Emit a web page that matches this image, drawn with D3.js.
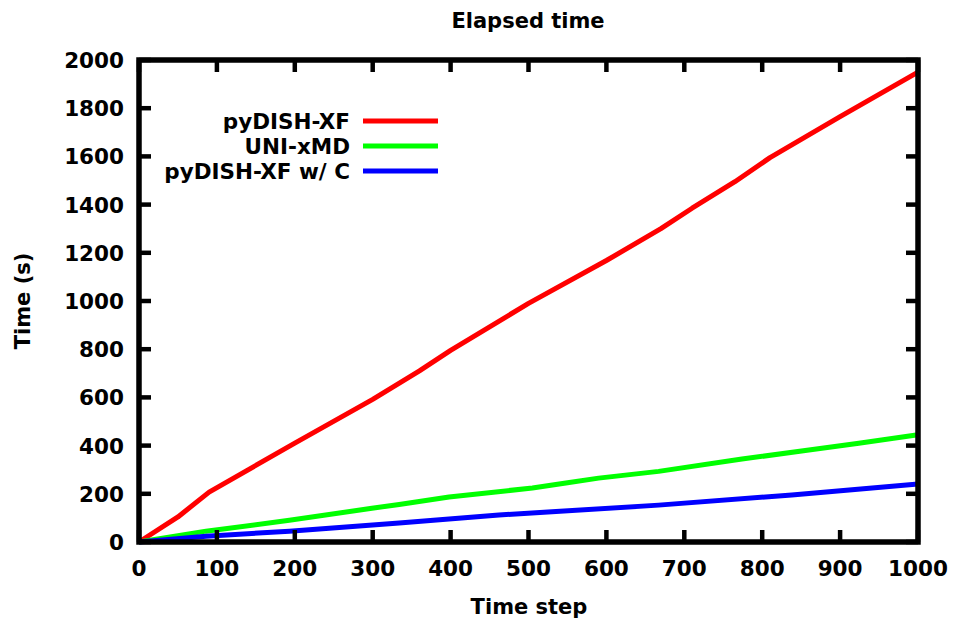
<!DOCTYPE html>
<html>
<head>
<meta charset="utf-8">
<script src="https://cdn.jsdelivr.net/npm/d3@7"></script>
<style>
  body { margin: 0; background: #fff; }
  text { font-family: "DejaVu Sans", sans-serif; font-weight: bold; }
</style>
</head>
<body>
<div class="canva"></div>
<script>
// values
const seriesNames = ['pyDISH-XF', 'UNI-xMD', 'pyDISH-XF w/ C'];
const seriesColors = ['#ff0000', '#00ff00', '#0000ff'];

const redSteps = [0, 50, 90, 200, 300, 360, 400, 500, 600, 670, 710, 765, 810, 900, 1000];
const redTimes = [0, 104, 207, 410, 592, 710, 795, 990, 1168, 1300, 1385, 1495, 1595, 1765, 1950];

const greenSteps = [0, 86, 193, 299, 334, 398, 505, 548, 590, 667, 774, 860, 924, 1000];
const greenTimes = [0, 45, 90, 140, 156, 187, 224, 245, 265, 293, 344, 382, 410, 445];

const blueSteps = [0, 86, 193, 334, 462, 667, 838, 1000];
const blueTimes = [0, 24, 45, 79, 112, 153, 195, 241];

const xTicks = [0, 100, 200, 300, 400, 500, 600, 700, 800, 900, 1000];
const yTicks = [0, 200, 400, 600, 800, 1000, 1200, 1400, 1600, 1800, 2000];

const W = 954, H = 619;
const plotL = 139, plotR = 918, plotT = 60, plotB = 542;

const svg = d3.select('.canva').append('svg')
    .attr('width', W)
    .attr('height', H);

const x = d3.scaleLinear().domain([0, 1000]).range([plotL, plotR]);
const y = d3.scaleLinear().domain([0, 2000]).range([plotB, plotT]);

const series = [
    redSteps.map((s, i) => [s, redTimes[i]]),
    greenSteps.map((s, i) => [s, greenTimes[i]]),
    blueSteps.map((s, i) => [s, blueTimes[i]])
];

const line = d3.line().x(d => x(d[0])).y(d => y(d[1]));

// data lines
svg.selectAll('path.series')
    .data(series)
    .enter()
    .append('path')
    .attr('class', 'series')
    .attr('d', line)
    .attr('fill', 'none')
    .attr('stroke', (d, i) => seriesColors[i])
    .attr('stroke-width', 5)
    .attr('stroke-linejoin', 'round');

// ticks on all four sides, pointing in
const tickLen = 12;
const tickStyle = sel => sel.attr('stroke', '#000').attr('stroke-width', 4.5);

xTicks.forEach(t => {
    svg.append('line').attr('x1', x(t)).attr('x2', x(t))
        .attr('y1', plotB).attr('y2', plotB - tickLen).call(tickStyle);
    svg.append('line').attr('x1', x(t)).attr('x2', x(t))
        .attr('y1', plotT).attr('y2', plotT + tickLen).call(tickStyle);
});
yTicks.forEach(t => {
    svg.append('line').attr('x1', plotL).attr('x2', plotL + tickLen)
        .attr('y1', y(t)).attr('y2', y(t)).call(tickStyle);
    svg.append('line').attr('x1', plotR).attr('x2', plotR - tickLen)
        .attr('y1', y(t)).attr('y2', y(t)).call(tickStyle);
});

// border
svg.append('rect')
    .attr('x', plotL).attr('y', plotT)
    .attr('width', plotR - plotL).attr('height', plotB - plotT)
    .attr('fill', 'none')
    .attr('stroke', '#000')
    .attr('stroke-width', 5.5);

// tick labels
svg.selectAll('text.xt')
    .data(xTicks)
    .enter()
    .append('text')
    .attr('class', 'xt')
    .attr('x', d => x(d))
    .attr('y', 576)
    .attr('text-anchor', 'middle')
    .attr('font-size', 21.5)
    .text(d => d);

svg.selectAll('text.yt')
    .data(yTicks)
    .enter()
    .append('text')
    .attr('class', 'yt')
    .attr('x', 124)
    .attr('y', d => y(d) + 8)
    .attr('text-anchor', 'end')
    .attr('font-size', 21.5)
    .text(d => d);

// titles
svg.append('text')
    .attr('x', 528).attr('y', 28)
    .attr('text-anchor', 'middle')
    .attr('font-size', 21)
    .text('Elapsed time');

svg.append('text')
    .attr('x', 529).attr('y', 614)
    .attr('text-anchor', 'middle')
    .attr('font-size', 21)
    .text('Time step');

svg.append('text')
    .attr('transform', 'translate(30,301) rotate(-90)')
    .attr('text-anchor', 'middle')
    .attr('font-size', 21)
    .text('Time (s)');

// legend
const legendY = [121, 146, 171];
seriesNames.forEach((name, i) => {
    svg.append('text')
        .attr('x', 350).attr('y', legendY[i] + 7.5)
        .attr('text-anchor', 'end')
        .attr('font-size', 21.5)
        .text(name);
    svg.append('line')
        .attr('x1', 363).attr('x2', 438)
        .attr('y1', legendY[i]).attr('y2', legendY[i])
        .attr('stroke', seriesColors[i])
        .attr('stroke-width', 5);
});
</script>
</body>
</html>
